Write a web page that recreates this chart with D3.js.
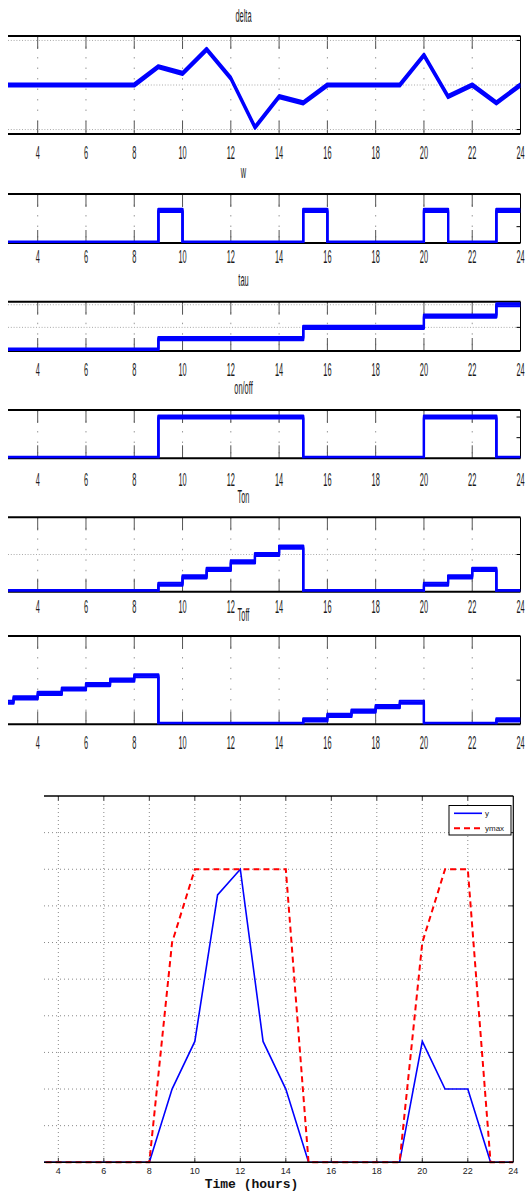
<!DOCTYPE html>
<html>
<head>
<meta charset="utf-8">
<script src="https://cdn.jsdelivr.net/npm/d3@7"></script>
<style>
  html, body { margin: 0; padding: 0; background: #fff; }
  svg { display: block; }
</style>
</head>
<body>
<div id="chart"></div>
<script>
// ---------------- DATA ----------------
const stepHours = [2,3,4,5,6,7,8,9,10,11,12,13,14,15,16,17,18,19,20,21,22,23,24];
const deltaVals = [0,0,0,0,0,0,0,0.41,0.26,0.80,0.15,-0.95,-0.26,-0.40,0,0,0,0,0.67,-0.26,0,-0.40,0];
const wVals     = [0,0,0,0,0,0,0,1,0,0,0,0,0,1,0,0,0,0,1,0,0,1,1];
const tauVals   = [0,0,0,0,0,0,0,1,1,1,1,1,1,2,2,2,2,2,3,3,3,4,4];
const onoffVals = [0,0,0,0,0,0,0,1,1,1,1,1,1,0,0,0,0,0,1,1,1,0,0];
const tonVals   = [0,0,0,0,0,0,0,1,2,3,4,5,6,0,0,0,0,0,1,2,3,0,0];
const toffVals  = [5,6,7,8,9,10,11,0,0,0,0,0,0,1,2,3,4,5,0,0,0,1,1];

const topTickHours = [4,6,8,10,12,14,16,18,20,22,24];
const panelTitles = ["delta","w","tau","on/off","Ton","Toff"];

const bottomHours = [3,4,5,6,7,8,9,10,11,12,13,14,15,16,17,18,19,20,21,22,23,24];
const yVals    = [0,0,0,0,0,0,2,3.3,7.3,8,3.3,2,0,0,0,0,0,3.3,2,2,0,0];
const ymaxVals = [0,0,0,0,0,0,6,8,8,8,8,8,0,0,0,0,0,6,8,8,0,0];
const bottomXTicks = [4,6,8,10,12,14,16,18,20,22,24];
const bottomYTicks = [1,2,3,4,5,6,7,8,9];
const legendLabels = ["y","ymax"];
const xLabel = "Time (hours)";

// ---------------- LAYOUT ----------------
const W = 525, H = 1192;
const svg = d3.select("#chart").append("svg").attr("width", W).attr("height", H);
svg.append("rect").attr("width", W).attr("height", H).attr("fill", "#fff");
const defs = svg.append("defs");

const xTop = d3.scaleLinear().domain([2.77, 24]).range([8, 520.5]);
const XL = 8, XR = 520.5;

const panelCfg = [
  {data: deltaVals, top: 36,    bottom: 134,   domain: [-1.1, 1.1],   ticks: [-1,0,1], grid: [-1,0,1], curve: d3.curveLinear,    titleY: 21.7,  labelY: 158.5},
  {data: wVals,     top: 194,   bottom: 243,   domain: [0, 1.5],      ticks: [0.5,1],  grid: [],       curve: d3.curveStepAfter, titleY: 177.7, labelY: 262.5},
  {data: tauVals,   top: 301.7, bottom: 351,   domain: [-0.09, 4.27], ticks: [2,4],    grid: [2,4],    curve: d3.curveStepAfter, titleY: 285.7, labelY: 375.5},
  {data: onoffVals, top: 410,   bottom: 458.3, domain: [0, 1.17],     ticks: [0.5,1],  grid: [],       curve: d3.curveStepAfter, titleY: 393.5, labelY: 485.5},
  {data: tonVals,   top: 517.3, bottom: 591.7, domain: [0, 10],       ticks: [5],      grid: [5],      curve: d3.curveStepAfter, titleY: 503.3, labelY: 612.5},
  {data: toffVals,  top: 636,   bottom: 724.3, domain: [0, 20],       ticks: [10],     grid: [],       curve: d3.curveStepAfter, titleY: 620.5, labelY: 748.5}
];

function stretchedText(g, x, y, txt) {
  g.append("text")
    .attr("transform", `translate(${x},${y}) scale(0.74,1.85)`)
    .attr("text-anchor", "middle")
    .attr("font-family", "Liberation Sans, Arial, sans-serif")
    .attr("font-size", 10)
    .attr("fill", "#1a1a1a")
    .text(txt);
}

panelCfg.forEach((p, i) => {
  const g = svg.append("g");
  const y = d3.scaleLinear().domain(p.domain).range([p.bottom, p.top]);

  // vertical dotted grid
  topTickHours.filter(h => h < 24).forEach(h => {
    g.append("line").attr("x1", xTop(h)).attr("x2", xTop(h))
      .attr("y1", p.top).attr("y2", p.bottom)
      .attr("stroke", "#999").attr("stroke-width", 1).attr("stroke-dasharray", "1.5,9");
    // inner ticks top & bottom
    g.append("line").attr("x1", xTop(h)).attr("x2", xTop(h))
      .attr("y1", p.top).attr("y2", p.top + 13)
      .attr("stroke", "#555").attr("stroke-width", 1);
    g.append("line").attr("x1", xTop(h)).attr("x2", xTop(h))
      .attr("y1", p.bottom - 13).attr("y2", p.bottom)
      .attr("stroke", "#555").attr("stroke-width", 1);
  });
  // horizontal dotted grid
  p.grid.forEach(v => {
    g.append("line").attr("x1", XL).attr("x2", XR)
      .attr("y1", y(v)).attr("y2", y(v))
      .attr("stroke", "#aaa").attr("stroke-width", 1).attr("stroke-dasharray", "1,1.8");
  });
  // right ticks
  p.ticks.forEach(v => {
    g.append("line").attr("x1", XR - 4).attr("x2", XR)
      .attr("y1", y(v)).attr("y2", y(v))
      .attr("stroke", "#000").attr("stroke-width", 1);
  });

  // borders
  g.append("line").attr("x1", XL).attr("x2", XR).attr("y1", p.top).attr("y2", p.top)
    .attr("stroke", "#000").attr("stroke-width", 2);
  g.append("line").attr("x1", XL).attr("x2", XR).attr("y1", p.bottom).attr("y2", p.bottom)
    .attr("stroke", "#000").attr("stroke-width", 2);
  g.append("line").attr("x1", XR).attr("x2", XR).attr("y1", p.top).attr("y2", p.bottom)
    .attr("stroke", "#000").attr("stroke-width", 1);

  // clip
  const cid = "clip" + i;
  defs.append("clipPath").attr("id", cid).append("rect")
    .attr("x", XL).attr("y", p.top).attr("width", XR - XL).attr("height", p.bottom - p.top);

  const line = d3.line().x(d => xTop(d[0])).y(d => y(d[1])).curve(p.curve);
  const pts = stepHours.map((h, k) => [h, p.data[k]]);
  const lg = g.append("g").attr("clip-path", `url(#${cid})`);
  [-1.5, 0, 1.5].forEach(dy => {
    lg.append("path").attr("d", line(pts))
      .attr("transform", `translate(0,${dy})`)
      .attr("fill", "none").attr("stroke", "#0000ff").attr("stroke-width", 2.2)
      .attr("stroke-linejoin", "round");
  });

  // title
  stretchedText(g, 243.5, p.titleY, panelTitles[i]);
  // tick labels
  topTickHours.forEach(h => stretchedText(g, xTop(h), p.labelY, String(h)));
});

// ---------------- BOTTOM CHART ----------------
const bL = 44, bR = 513.3, bT = 796, bB = 1162.3;
const xB = d3.scaleLinear().domain([3.37, 24]).range([bL, bR]);
const yB = d3.scaleLinear().domain([0, 10]).range([bB, bT]);
const gb = svg.append("g");

bottomXTicks.filter(h => h < 24).forEach(h => {
  gb.append("line").attr("x1", xB(h)).attr("x2", xB(h)).attr("y1", bT).attr("y2", bB)
    .attr("stroke", "#888").attr("stroke-width", 1).attr("stroke-dasharray", "1,3");
  gb.append("line").attr("x1", xB(h)).attr("x2", xB(h)).attr("y1", bT).attr("y2", bT + 4.5)
    .attr("stroke", "#333").attr("stroke-width", 1);
  gb.append("line").attr("x1", xB(h)).attr("x2", xB(h)).attr("y1", bB - 4.5).attr("y2", bB)
    .attr("stroke", "#333").attr("stroke-width", 1);
});
bottomYTicks.forEach(v => {
  gb.append("line").attr("x1", bL).attr("x2", bR).attr("y1", yB(v)).attr("y2", yB(v))
    .attr("stroke", "#888").attr("stroke-width", 1).attr("stroke-dasharray", "1,3");
  gb.append("line").attr("x1", bR - 5).attr("x2", bR).attr("y1", yB(v)).attr("y2", yB(v))
    .attr("stroke", "#333").attr("stroke-width", 1);
});

const lineB = d3.line().x(d => xB(d[0])).y(d => yB(d[1]));
defs.append("clipPath").attr("id", "clipB").append("rect")
  .attr("x", bL).attr("y", bT - 2).attr("width", bR - bL).attr("height", bB - bT + 4);
const lb = gb.append("g").attr("clip-path", "url(#clipB)");
lb.append("path").attr("d", lineB(bottomHours.map((h, k) => [h, yVals[k]])))
  .attr("fill", "none").attr("stroke", "#0000ff").attr("stroke-width", 1.6);
lb.append("path").attr("d", lineB(bottomHours.map((h, k) => [h, ymaxVals[k]])))
  .attr("fill", "none").attr("stroke", "#ff0000").attr("stroke-width", 2)
  .attr("stroke-dasharray", "6,4");

// frame
gb.append("line").attr("x1", bL).attr("x2", bR).attr("y1", bT).attr("y2", bT).attr("stroke", "#000").attr("stroke-width", 1.5);
gb.append("line").attr("x1", bR).attr("x2", bR).attr("y1", bT).attr("y2", bB).attr("stroke", "#000").attr("stroke-width", 1.2);
gb.append("line").attr("x1", bL).attr("x2", bR).attr("y1", bB).attr("y2", bB).attr("stroke", "#000").attr("stroke-width", 1.5);

// x tick labels
bottomXTicks.forEach(h => {
  gb.append("text").attr("x", xB(h)).attr("y", 1174.3).attr("text-anchor", "middle")
    .attr("font-family", "Liberation Sans, Arial, sans-serif").attr("font-size", 9)
    .attr("fill", "#222").text(String(h));
});
gb.append("text").attr("x", 251.5).attr("y", 1187.8).attr("text-anchor", "middle")
  .attr("font-family", "Liberation Mono, Courier New, monospace").attr("font-weight", "bold")
  .attr("font-size", 13).attr("fill", "#111").text(xLabel);

// legend
const lgd = gb.append("g");
lgd.append("rect").attr("x", 449).attr("y", 805.5).attr("width", 62).attr("height", 29.5)
  .attr("fill", "#fff").attr("stroke", "#000").attr("stroke-width", 1);
const legendStyles = [
  {color: "#0000ff", dash: null, w: 1.6, ly: 813.3, ty: 815.8},
  {color: "#ff0000", dash: "6,4", w: 2, ly: 828.3, ty: 830.8}
];
legendLabels.forEach((lab, k) => {
  const s = legendStyles[k];
  const ln = lgd.append("line").attr("x1", 454).attr("x2", 482).attr("y1", s.ly).attr("y2", s.ly)
    .attr("stroke", s.color).attr("stroke-width", s.w);
  if (s.dash) ln.attr("stroke-dasharray", s.dash);
  lgd.append("text").attr("x", 485).attr("y", s.ty)
    .attr("font-family", "Liberation Sans, Arial, sans-serif").attr("font-size", 8)
    .attr("fill", "#222").text(lab);
});
</script>
</body>
</html>
